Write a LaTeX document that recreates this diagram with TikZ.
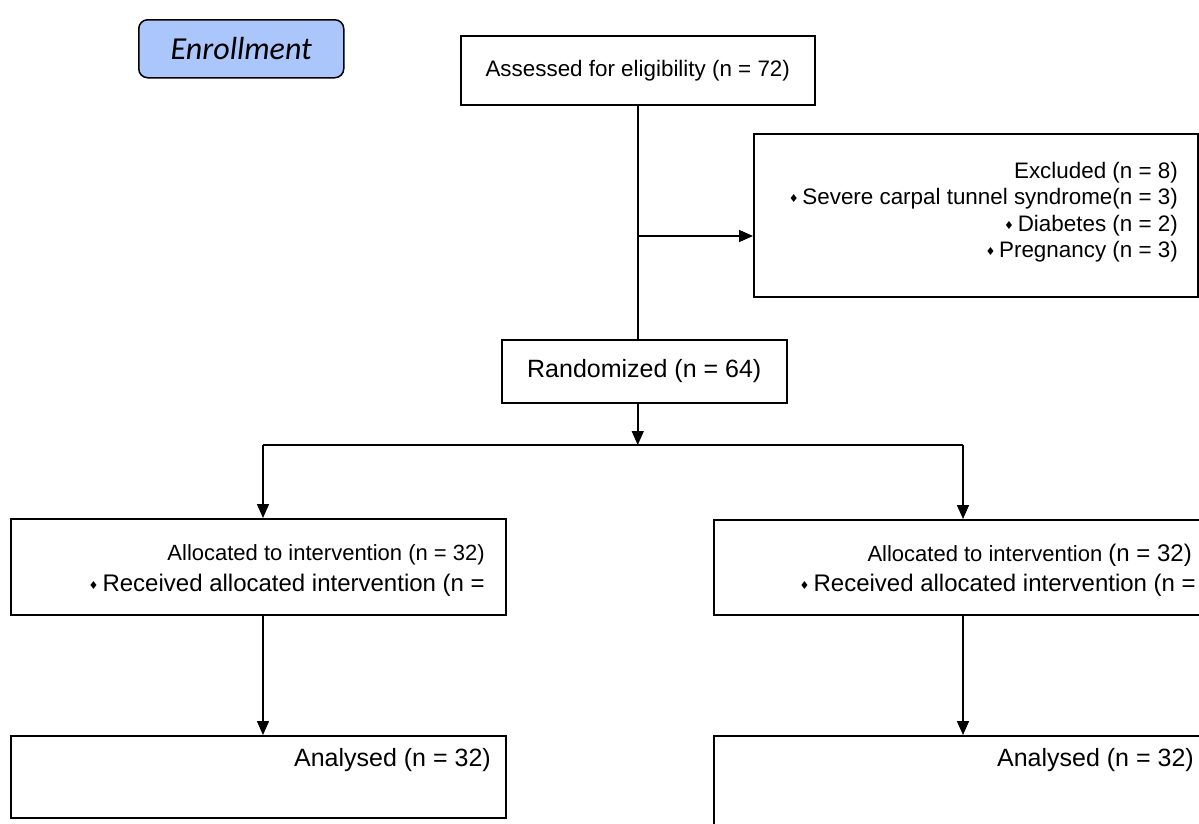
\documentclass[tikz,border=0pt]{standalone}
\usepackage{fontspec}
\setmainfont{Liberation Sans}
\newfontfamily\calibfont{Carlito}
\newfontfamily\dejavfont{DejaVu Sans}
\usetikzlibrary{arrows.meta}
\definecolor{enrblue}{RGB}{170,198,250}
\newcommand\dmd{{\dejavfont\fontsize{11}{11}\selectfont\raisebox{2pt}{♦}}\,}
\newcommand\fsA{\fontsize{22.4}{26.5}\selectfont}
\newcommand\fsB{\fontsize{24}{26}\selectfont}
\begin{document}
\begin{tikzpicture}[x=1pt,y=-1pt,
  box/.style={draw, line width=1.5pt, inner sep=0, anchor=north west},
  txt/.style={inner sep=0, anchor=east},
  arr/.style={line width=1.5pt, -{Triangle[length=14pt,width=12pt]}},
  ln/.style={line width=1.5pt}]
\useasboundingbox (0,0) rectangle (1199,823);
\fill[white] (0,0) rectangle (1199,823);
\clip (0,0) rectangle (1199,823);

% boxes
\node[box, rounded corners=9pt, fill=enrblue, minimum width=205pt, minimum height=58pt,
      font=\calibfont\itshape\fontsize{32}{32}\selectfont] (enr) at (138,19) {Enrollment};
\node[box, minimum width=354pt, minimum height=69pt, font=\fsA] (ass) at (460,35) {Assessed for eligibility (n = 72)};
\node[box, minimum width=444pt, minimum height=163pt] (exc) at (753,133) {};
\node[box, minimum width=285pt, minimum height=63pt, font=\fontsize{25}{26}\selectfont] (rnd) at (501,339) {Randomized (n = 64)};
\node[box, minimum width=495pt, minimum height=96pt] (al1) at (10,518) {};
\node[box, minimum width=500pt, minimum height=95pt] (al2) at (713,519) {};
\node[box, minimum width=495pt, minimum height=82pt] (an1) at (10,735) {};
\node[box, minimum width=500pt, minimum height=130pt] (an2) at (713,735) {};

% texts
\node[txt, align=right, font=\fsA] (exct) at (1178,212)
  {Excluded (n = 8)\\ \dmd Severe carpal tunnel syndrome(n = 3)\\ \dmd Diabetes (n = 2)\\ \dmd Pregnancy (n = 3)};
\node[txt, font=\fontsize{22}{26}\selectfont] (al1a) at (485,555) {Allocated to intervention (n = 32)};
\node[txt, font=\fsB] (al1b) at (485,585) {\dmd Received allocated intervention (n =};
\node[txt, font=\fontsize{22}{26}\selectfont] (al2a) at (1192,555) {Allocated to intervention {\fsB(n = 32)}};
\node[txt, font=\fsB] (al2b) at (1196,585) {\dmd Received allocated intervention (n =};
\node[txt, font=\fontsize{25}{26}\selectfont] (an1a) at (491,760) {Analysed (n = 32)};
\node[txt, font=\fontsize{25}{26}\selectfont] (an2a) at (1194,760) {Analysed (n = 32)};

% connectors
\coordinate (j1) at (ass.south |- 0,236);
\coordinate (sp) at (ass.south |- 0,445);
\coordinate (bl) at (263,445);
\coordinate (br) at (963,445);
\draw[ln] (ass.south) -- (ass.south |- rnd.north);
\draw[arr] (j1) -- (j1 -| exc.west);
\draw[arr] (ass.south |- rnd.south) -- (sp);
\draw[ln] (bl) -- (br);
\draw[line width=2.5pt] (552,445) -- (675,445);
\draw[arr] (bl) -- (bl |- al1.north);
\draw[arr] (br) -- (br |- al2.north);
\draw[arr] (bl |- al1.south) -- (bl |- an1.north);
\draw[arr] (br |- al2.south) -- (br |- an2.north);
\end{tikzpicture}
\end{document}
